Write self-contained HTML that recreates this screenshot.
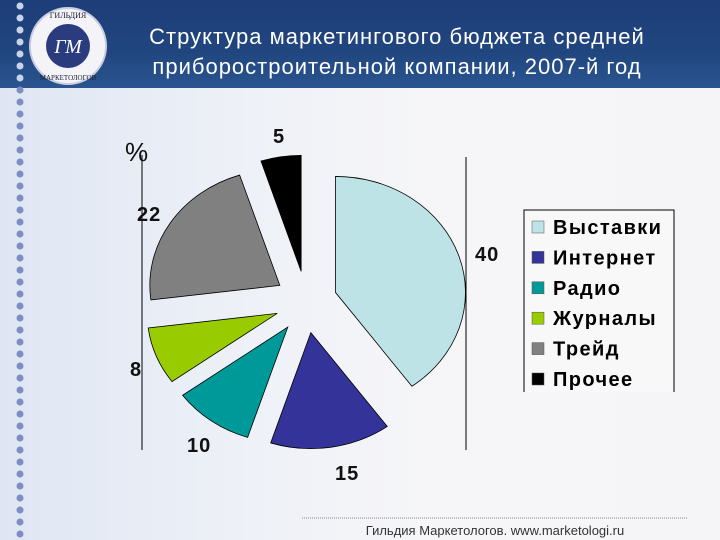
<!DOCTYPE html>
<html><head><meta charset="utf-8"><style>
body{margin:0;width:720px;height:540px;overflow:hidden;font-family:"Liberation Sans",sans-serif;}
#bg{position:absolute;left:0;top:0;width:720px;height:540px;background:linear-gradient(90deg,#dfe6f3 0%,#eef1f7 35%,#f6f6f8 60%,#f5f5f7 100%);}
#hdr{position:absolute;left:0;top:0;width:720px;height:88px;background:linear-gradient(180deg,#1d3d78 0%,#21467f 60%,#2a5590 100%);}
</style></head><body>
<div id="bg"></div>
<div id="hdr"></div>
<svg width="720" height="540" style="position:absolute;left:0;top:0">
 <g id="dots"></g>
 <g>
  <circle cx="68" cy="46" r="38" fill="#f4f4f8" stroke="#c8cde0" stroke-width="2"/>
  <circle cx="68" cy="46" r="22" fill="#2b3c7e"/>
  <text x="68" y="53" font-family="Liberation Serif" font-style="italic" font-size="20" fill="#fff" text-anchor="middle">ГМ</text>
  <text x="68" y="18" font-family="Liberation Serif" font-size="8" fill="#223" text-anchor="middle">ГИЛЬДИЯ</text>
  <text x="68" y="80" font-family="Liberation Serif" font-size="7" fill="#223" text-anchor="middle">МАРКЕТОЛОГОВ</text>
 </g>
 <text x="397" y="44" font-size="22" letter-spacing="1" fill="#fff" text-anchor="middle">Структура маркетингового бюджета средней</text>
 <text x="397" y="74" font-size="22" letter-spacing="1" fill="#fff" text-anchor="middle">приборостроительной компании, 2007-й год</text>
 <text x="125" y="161" font-size="26" fill="#111">%</text>
 <line x1="142" y1="155" x2="142" y2="450" stroke="#000"/>
 <line x1="466" y1="157" x2="466" y2="450" stroke="#000"/>
 <g id="pie"></g>
 <g id="labels"></g>
 <path d="M524,392V210H674V392" fill="#f8f8f8" stroke="#000"/>
 <g id="legend"></g>
 <line x1="302" y1="518" x2="688" y2="518" stroke="#888" stroke-dasharray="1,1"/>
 <text x="495" y="535" font-size="13" fill="#333" text-anchor="middle">Гильдия Маркетологов. www.marketologi.ru</text>
</svg>
<script>
const categories=["Выставки","Интернет","Радио","Журналы","Трейд","Прочее"];
const values=[40,15,10,8,22,5];
const colors=["#bde3e6","#333399","#009999","#99cc00","#808080","#000000"];
const NS="http://www.w3.org/2000/svg";
const cx=306,cy=302,rx=130,ry=116,off=31;
const labelPos=[[475,253],[335,472],[187,444],[130,368],[137,213],[273,135]];
const dots=document.getElementById('dots');
for(let y=6;y<535;y+=12){const c=document.createElementNS(NS,'circle');


c.setAttribute('cx',20);c.setAttribute('cy',y);c.setAttribute('r',3.5);c.setAttribute('fill',y<90?'#c9d3ea':'#7f8fc4');dots.appendChild(c);}
const total=values.reduce((a,b)=>a+b,0);
let acc=0;const pie=document.getElementById('pie'),lab=document.getElementById('labels'),leg=document.getElementById('legend');
function pt(x,y,a,f){return [x+rx*f*Math.sin(a),y-ry*f*Math.cos(a)];}
values.forEach((v,i)=>{
 const a0=acc/total*2*Math.PI;acc+=v;const a1=acc/total*2*Math.PI;const am=(a0+a1)/2;
 const x=cx+off*Math.sin(am),y=cy-off*Math.cos(am);
 const p0=pt(x,y,a0,1),p1=pt(x,y,a1,1);
 const large=(a1-a0)>Math.PI?1:0;
 const p=document.createElementNS(NS,'path');
 
 
 p.setAttribute('d',`M${x},${y}L${p0[0]},${p0[1]}A${rx},${ry} 0 ${large} 1 ${p1[0]},${p1[1]}Z`);
 p.setAttribute('fill',colors[i]);p.setAttribute('stroke','#000');p.setAttribute('stroke-width','0.8');pie.appendChild(p);
 const t=document.createElementNS(NS,'text');
 
 
 t.setAttribute('x',labelPos[i][0]);t.setAttribute('y',labelPos[i][1]+8);t.setAttribute('font-size','20');t.setAttribute('font-weight','bold');t.setAttribute('letter-spacing','1');t.setAttribute('fill','#111');
 t.textContent=v;lab.appendChild(t);
 const ly=227+i*30.4;
 const r=document.createElementNS(NS,'rect');
 
 
 r.setAttribute('x',532);r.setAttribute('y',ly-6);r.setAttribute('width',12);r.setAttribute('height',12);r.setAttribute('fill',colors[i]);r.setAttribute('stroke','#555');r.setAttribute('stroke-width','0.5');leg.appendChild(r);
 const lt=document.createElementNS(NS,'text');
 
 
 lt.setAttribute('x',553);lt.setAttribute('y',ly+7);lt.setAttribute('font-size','20');lt.setAttribute('font-weight','bold');lt.setAttribute('letter-spacing','1.4');lt.setAttribute('fill','#000');
 lt.textContent=categories[i];leg.appendChild(lt);
});
</script>
</body></html>
